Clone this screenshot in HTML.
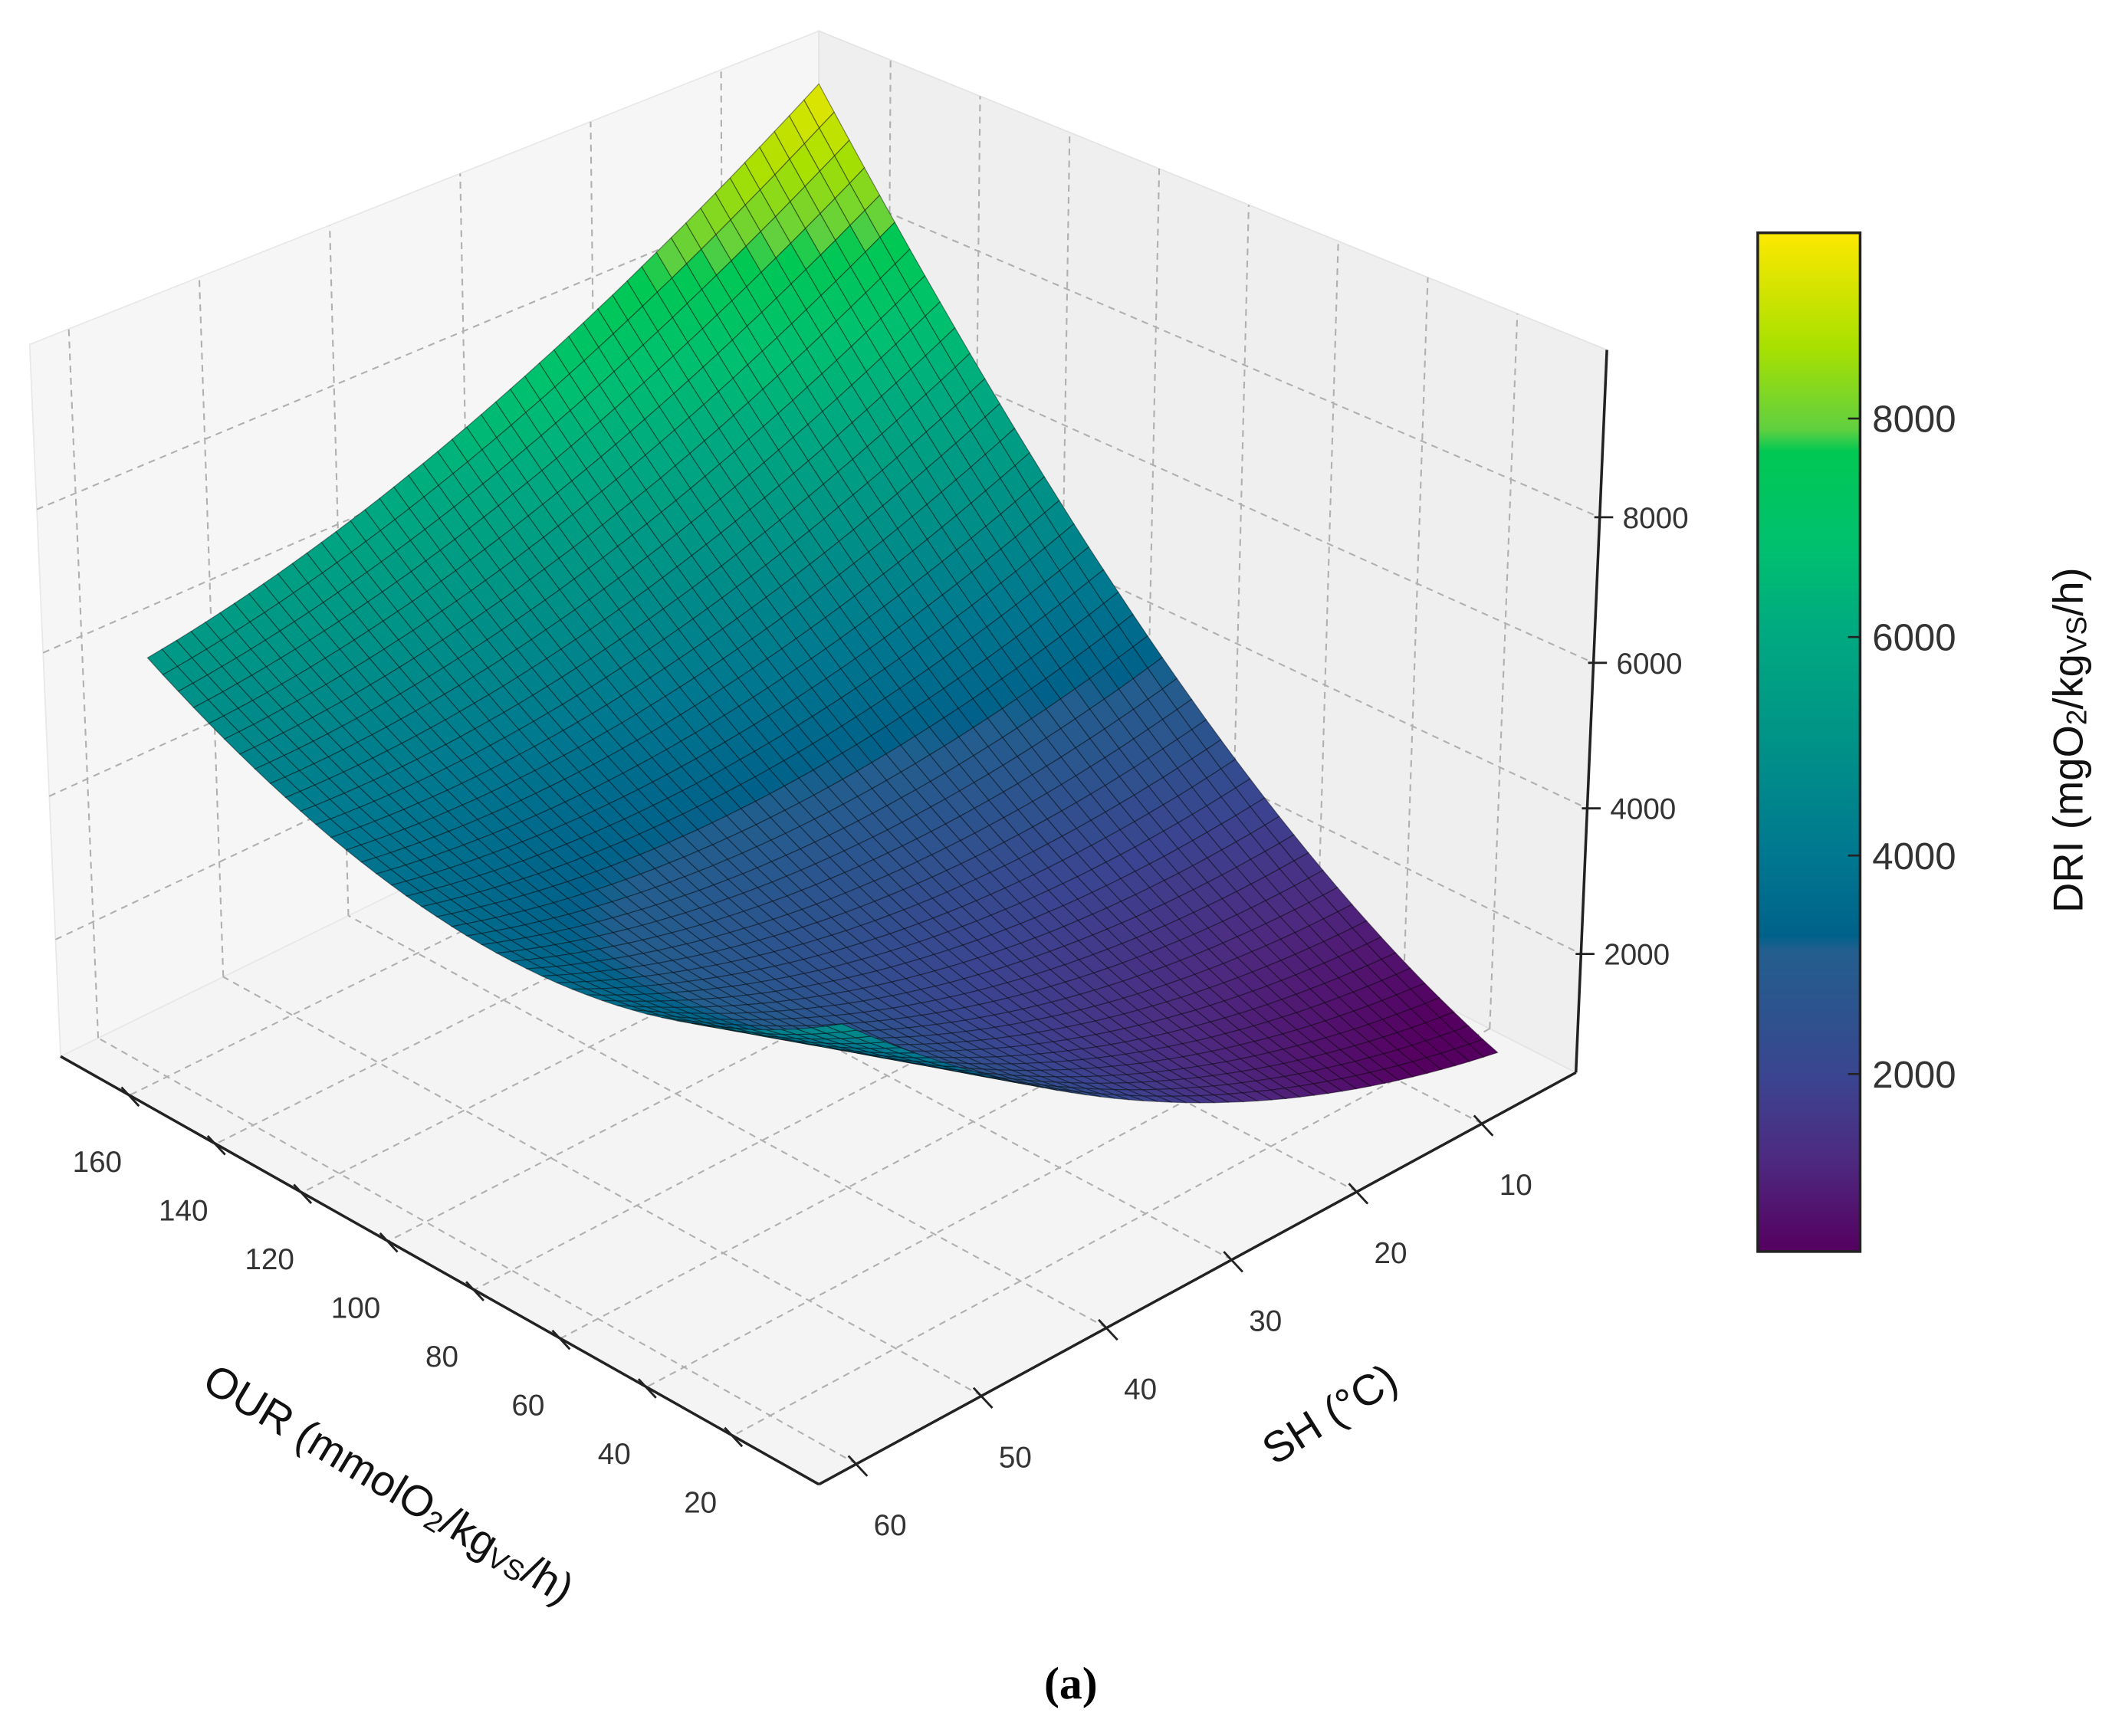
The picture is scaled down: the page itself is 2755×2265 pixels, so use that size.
<!DOCTYPE html>
<html><head><meta charset="utf-8"><style>
html,body{margin:0;padding:0;background:#fff}
svg{display:block}
text{font-family:"Liberation Sans","DejaVu Sans",sans-serif}
</style></head><body>
<svg id="chart" width="2755" height="2265" viewBox="0 0 1568 1290" preserveAspectRatio="none" xmlns="http://www.w3.org/2000/svg">
<g id="panes"></g>
<g id="grid"></g>
<g id="axes"></g>
<g id="surface"></g>
<g id="ticks"></g>
<defs>
<linearGradient id="cbgrad" x1="0" y1="1" x2="0" y2="0">
<stop offset="0" stop-color="#550060"/><stop offset="0.09" stop-color="#4d2a80"/><stop offset="0.17" stop-color="#3b4490"/><stop offset="0.22" stop-color="#30508e"/><stop offset="0.295" stop-color="#235e8e"/><stop offset="0.31" stop-color="#00628a"/><stop offset="0.39" stop-color="#007890"/><stop offset="0.49" stop-color="#009088"/><stop offset="0.61" stop-color="#00aa80"/><stop offset="0.69" stop-color="#00c070"/><stop offset="0.785" stop-color="#00c853"/><stop offset="0.807" stop-color="#60d040"/><stop offset="0.887" stop-color="#a8e000"/><stop offset="1" stop-color="#fde800"/>
</linearGradient>
</defs>
<rect x="1305" y="173" width="76" height="757" fill="url(#cbgrad)" stroke="#222" stroke-width="2"/>
<g id="cbticks"></g>
<text transform="translate(1546,550) rotate(-90)" text-anchor="middle" font-size="31" fill="#111">DRI (mgO<tspan font-size="21" dy="3">2</tspan><tspan dy="-3">/kg</tspan><tspan font-size="21" dy="3">VS</tspan><tspan dy="-3">/h)</tspan></text>
<text transform="translate(283,1112) rotate(31)" text-anchor="middle" font-size="32" fill="#111">OUR (mmolO<tspan font-size="21" dy="3">2</tspan><tspan dy="-3">/kg</tspan><tspan font-size="21" dy="3">VS</tspan><tspan dy="-3">/h)</tspan></text>
<text transform="translate(993,1060) rotate(-32)" text-anchor="middle" font-size="32" fill="#111">SH (°C)</text>
<text x="795" y="1262" text-anchor="middle" font-size="34" font-weight="bold" style="font-family:'Liberation Serif',serif" fill="#000">(a)</text>
</svg>
<script>
// ---- data ----
const ourTicks = [20, 40, 60, 80, 100, 120, 140, 160];
const shTicks = [10, 20, 30, 40, 50, 60];
const zTicks = [2000, 4000, 6000, 8000];
const cbTicks = [2000, 4000, 6000, 8000];
const ourLimits = [0, 176];
const shLimits = [2.5, 63];
const zLimits = [370, 10300];
const cbLimits = [375, 9700];
const ourDomain = [18, 176];
const shDomain = [2.5, 55];
// fitted response-surface coefficients: [1, OUR, SH, OUR^2, SH^2, OUR*SH]
const modelCoef = [-343.3, 15.57, 51.2, 0.2403, 1.039, -1.0847];
const meshCount = 46;

const NS = 'http://www.w3.org/2000/svg';
const F0 = {R:[1170,797],F:[608,1103],L:[45,785],B:[607,510]};
const F1 = {R:[1193,260],F:[608,495],L:[22,256],B:[608,23]};
function bil(c,u,v){
  const x=(1-u)*(1-v)*c.R[0]+(1-u)*v*c.F[0]+u*v*c.L[0]+u*(1-v)*c.B[0];
  const y=(1-u)*(1-v)*c.R[1]+(1-u)*v*c.F[1]+u*v*c.L[1]+u*(1-v)*c.B[1];
  return [x,y];
}
function proj(u,v,w){const a=bil(F0,u,v),b=bil(F1,u,v);return [a[0]+(b[0]-a[0])*w,a[1]+(b[1]-a[1])*w];}
const uS=o=>(o-ourLimits[0])/(ourLimits[1]-ourLimits[0]);
const vS=s=>(s-shLimits[0])/(shLimits[1]-shLimits[0]);
const wS=z=>(z-zLimits[0])/(zLimits[1]-zLimits[0]);
function model(o,s){const c=modelCoef;return c[0]+c[1]*o+c[2]*s+c[3]*o*o+c[4]*s*s+c[5]*o*s;}
const cmap=[[0,'#550060'],[0.09,'#4d2a80'],[0.17,'#3b4490'],[0.22,'#30508e'],[0.295,'#235e8e'],[0.31,'#00628a'],[0.39,'#007890'],[0.49,'#009088'],[0.61,'#00aa80'],[0.69,'#00c070'],[0.785,'#00c853'],[0.807,'#60d040'],[0.887,'#a8e000'],[1,'#fde800']];
function hex(h){return [1,3,5].map(i=>parseInt(h.substr(i,2),16));}
function color(z){
  let t=(z-cbLimits[0])/(cbLimits[1]-cbLimits[0]);t=Math.max(0,Math.min(1,t));
  for(let i=1;i<cmap.length;i++){if(t<=cmap[i][0]){const a=cmap[i-1],b=cmap[i];const f=(t-a[0])/(b[0]-a[0]);const ca=hex(a[1]),cb=hex(b[1]);
    return 'rgb('+ca.map((x,k)=>Math.round(x+(cb[k]-x)*f)).join(',')+')';}}
  return cmap[cmap.length-1][1];
}
function mk(tag,attrs,parent){const e=document.createElementNS(NS,tag);for(const k in attrs)e.setAttribute(k,attrs[k]);parent.appendChild(e);return e;}
const pts=a=>a.map(p=>p[0].toFixed(1)+','+p[1].toFixed(1)).join(' ');

// panes
const panes=document.getElementById('panes');
let p=mk('polygon',{points:pts([F0.R,F0.F,F0.L,F0.B]),fill:'#f4f4f4',stroke:'#e4e4e4'},panes);


p=mk('polygon',{points:pts([F0.B,F0.L,F1.L,F1.B]),fill:'#f6f6f6',stroke:'#e8e8e8'},panes);


p=mk('polygon',{points:pts([F0.R,F0.B,F1.B,F1.R]),fill:'#efefef',stroke:'#e4e4e4'},panes);



// grid
const grid=document.getElementById('grid');
function gl(a,b){const l=mk('line',{x1:a[0],y1:a[1],x2:b[0],y2:b[1],stroke:'#b0b0b0','stroke-width':1.2,'stroke-dasharray':'5,4'},grid);

}
shTicks.forEach(s=>{const v=vS(s);gl(proj(1,v,0),proj(1,v,1));gl(proj(0,v,0),proj(1,v,0));});
ourTicks.forEach(o=>{const u=uS(o);gl(proj(u,0,0),proj(u,0,1));gl(proj(u,0,0),proj(u,1,0));});
zTicks.forEach(z=>{const w=wS(z);gl(proj(1,1,w),proj(1,0,w));gl(proj(1,0,w),proj(0,0,w));});

// axes
const axes=document.getElementById('axes');
function al(a,b,name){const l=mk('line',{x1:a[0],y1:a[1],x2:b[0],y2:b[1],stroke:'#222','stroke-width':2},axes);

}
al(F0.L,F0.F,'our-axis-line');al(F0.F,F0.R,'sh-axis-line');al(F0.R,F1.R,'z-axis-line');

// surface
const surf=document.getElementById('surface');
const N=meshCount,quads=[];
const oAt=i=>ourDomain[0]+(ourDomain[1]-ourDomain[0])*i/N;
const sAt=j=>shDomain[0]+(shDomain[1]-shDomain[0])*j/N;
for(let i=0;i<N;i++)for(let j=0;j<N;j++){
  const c=[[i,j],[i+1,j],[i+1,j+1],[i,j+1]].map(([a,b])=>{const o=oAt(a),s=sAt(b),z=model(o,s);return {o,s,z};});
  const zm=c.reduce((t,q)=>t+q.z,0)/4;
  const sc=c.map(q=>proj(uS(q.o),vS(q.s),wS(q.z)));
  const um=uS((oAt(i)+oAt(i+1))/2),vm=vS((sAt(j)+sAt(j+1))/2);
  quads.push({sc,zm,d:um+(1-vm)-0.5*wS(zm)});
}
quads.sort((a,b)=>b.d-a.d);
quads.forEach(q=>{const e=mk('polygon',{points:pts(q.sc),fill:color(q.zm),stroke:'rgba(0,0,0,0.42)','stroke-width':0.7},surf);

});

// ticks & labels
const tk=document.getElementById('ticks');
function tl(a,b){const l=mk('line',{x1:a[0],y1:a[1],x2:b[0],y2:b[1],stroke:'#222','stroke-width':1.6},tk);

}
function tt(x,y,s,anchor,size,name){const t=mk('text',{x:x,y:y,'text-anchor':anchor,'font-size':size,fill:'#333'},tk);t.textContent=s;

}
ourTicks.forEach(o=>{const q=proj(uS(o),1,0);tl([q[0]-6,q[1]-6],[q[0]+7,q[1]+8]);tt(q[0]-24,q[1]+57,String(o),'middle',22,'our-tick-label');});
shTicks.forEach(s=>{const q=proj(0,vS(s),0);tl([q[0]-6,q[1]-6],[q[0]+8,q[1]+9]);tt(q[0]+25,q[1]+53,String(s),'middle',22,'sh-tick-label');});
zTicks.forEach(z=>{const q=proj(0,0,wS(z));tl([q[0]-4,q[1]],[q[0]+10,q[1]]);tt(q[0]+17,q[1]+8,String(z),'start',22,'z-tick-label');});
const cb=document.getElementById('cbticks');
cbTicks.forEach(z=>{const y=930-(z-cbLimits[0])/(cbLimits[1]-cbLimits[0])*757;
const l=mk('line',{x1:1372,y1:y,x2:1381,y2:y,stroke:'#222','stroke-width':1.5},cb);


const t=mk('text',{x:1390,y:y+10,'font-size':28,fill:'#333'},cb);t.textContent=String(z);

});
</script>
</body></html>
